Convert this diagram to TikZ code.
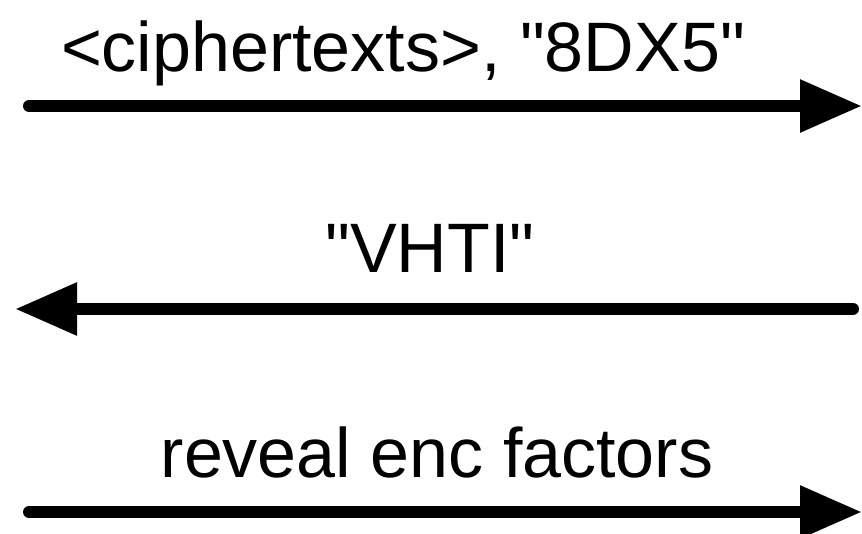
\documentclass[tikz,border=0pt]{standalone}
\usepackage{fontspec}
\setmainfont{Liberation Sans}[Ligatures=TeXOff]
\usetikzlibrary{arrows.meta}
\begin{document}
\begin{tikzpicture}[x=1pt,y=-1pt,
  msg/.style={line width=12pt,line cap=round,-{Triangle[length=62pt,width=50pt]}},
  lbl/.style={anchor=base,inner sep=0pt,font=\fontsize{70}{80}\selectfont}]
\useasboundingbox (0,0) rectangle (862,534);
\coordinate (s1) at (29,106);
\coordinate (e1) at (862,106);
\coordinate (s2) at (853,309);
\coordinate (e2) at (15,309);
\coordinate (s3) at (29,512);
\coordinate (e3) at (862,512);
\node[lbl] (t1) at (403,72) {<ciphertexts>, "8DX5"};
\node[lbl] (t2) at (430,273) {"VHTI"};
\node[lbl] (t3) at (437,477) {reveal enc factors};
\draw[msg] (s1) -- (e1);
\draw[msg] (s2) -- (e2);
\draw[msg] (s3) -- (e3);
\end{tikzpicture}
\end{document}
